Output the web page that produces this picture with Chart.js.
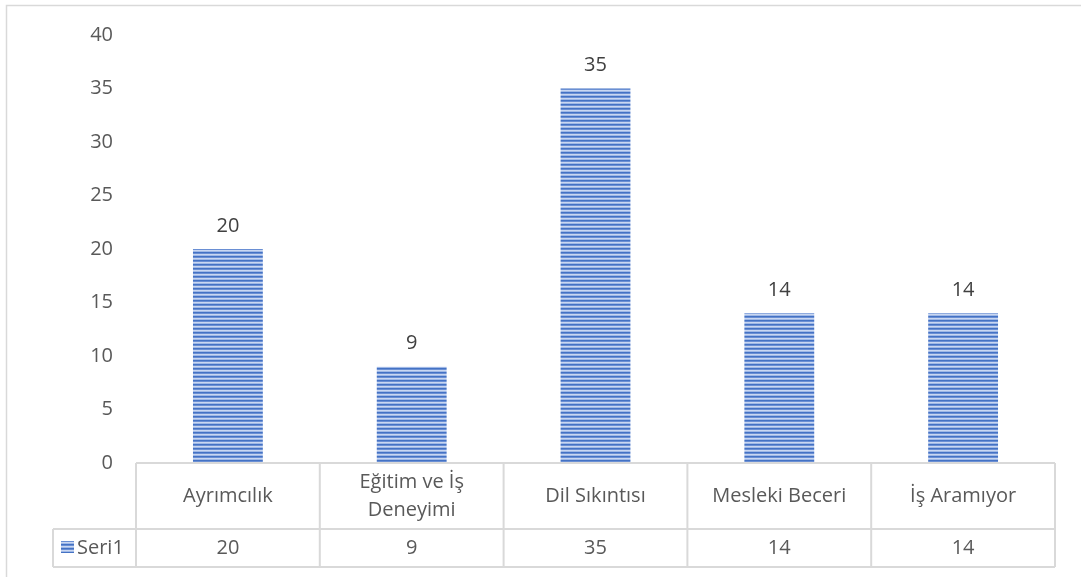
<!DOCTYPE html>
<html>
<head>
<meta charset="utf-8">
<script src="https://cdn.jsdelivr.net/npm/chart.js@4.4.1/dist/chart.umd.min.js"></script>
<style>
  html, body { margin: 0; padding: 0; background: #fff; }
  #wrap { position: relative; width: 1081px; height: 577px; }
</style>
</head>
<body>
<div id="wrap"><canvas id="myChart" width="1081" height="577"></canvas></div>
<script>
// veriler
var categories = ['Ayrımcılık', ['Eğitim ve İş', 'Deneyimi'], 'Dil Sıkıntısı', 'Mesleki Beceri', 'İş Aramıyor'];
var seriesName = 'Seri1';
var values = [20, 9, 35, 14, 14];
var yTicks = [0, 5, 10, 15, 20, 25, 30, 35, 40];

var FONT = '"Open Sans", "Liberation Sans", sans-serif';
var FSIZE = 20;
var TEXT = '#595959';
var LINE = '#d9d9d9';

// yatay çizgili desen
function stripes() {
  var c = document.createElement('canvas');
  c.width = 8; c.height = 4;
  var g = c.getContext('2d');
  var rows = ['#4472c4', '#6a8fd4', '#c9d7f1', '#9fb8e6'];
  for (var r = 0; r < rows.length; r++) {
    g.fillStyle = rows[r]; g.fillRect(0, r, 8, 1);
  }
  return document.getElementById('myChart').getContext('2d').createPattern(c, 'repeat');
}
var pattern = stripes();

var tablePlugin = {
  id: 'dataTable',
  afterDraw: function(chart) {
    var ctx = chart.ctx, area = chart.chartArea, xs = chart.scales.x;
    var top = area.bottom, mid = top + 66, bot = mid + 38;
    var legendLeft = 53;
    var step = (area.right - area.left) / categories.length;
    ctx.save();
    // dış çerçeve
    ctx.strokeStyle = LINE; ctx.lineWidth = 1.5;
    ctx.strokeRect(6.5, 5.5, 1100, 600);
    ctx.lineWidth = 2;
    ctx.beginPath();
    ctx.moveTo(area.left, top); ctx.lineTo(area.right, top);
    ctx.moveTo(legendLeft, mid); ctx.lineTo(area.right, mid);
    ctx.moveTo(legendLeft, bot); ctx.lineTo(area.right, bot);
    ctx.moveTo(legendLeft, mid); ctx.lineTo(legendLeft, bot);
    for (var i = 0; i <= categories.length; i++) {
      var x = area.left + i * step;
      ctx.moveTo(x, top); ctx.lineTo(x, bot);
    }
    ctx.stroke();
    // metinler
    ctx.fillStyle = TEXT;
    ctx.font = FSIZE + 'px ' + FONT;
    ctx.textAlign = 'center'; ctx.textBaseline = 'middle';
    for (var j = 0; j < categories.length; j++) {
      var cx = xs.getPixelForValue(j);
      var lab = categories[j];
      if (Array.isArray(lab)) {
        ctx.fillText(lab[0], cx, top + 19);
        ctx.fillText(lab[1], cx, top + 47);
      } else {
        ctx.fillText(lab, cx, top + 33);
      }
      ctx.fillText(String(values[j]), cx, mid + 19);
    }
    // lejant
    ctx.fillStyle = pattern;
    ctx.fillRect(61, mid + 12, 13, 12);
    ctx.fillStyle = TEXT;
    ctx.textAlign = 'left';
    ctx.fillText(seriesName, 77, mid + 19);
    ctx.restore();
  }
};

var labelPlugin = {
  id: 'barLabels',
  afterDatasetsDraw: function(chart) {
    var ctx = chart.ctx;
    var meta = chart.getDatasetMeta(0);
    ctx.save();
    ctx.fillStyle = '#404040';
    ctx.font = FSIZE + 'px ' + FONT;
    ctx.textAlign = 'center'; ctx.textBaseline = 'middle';
    meta.data.forEach(function(bar, i) {
      ctx.fillText(String(values[i]), bar.x, bar.y - 23);
    });
    ctx.restore();
  }
};

var ctx = document.getElementById('myChart').getContext('2d');
var myChart = new Chart(ctx, {
  type: 'bar',
  data: {
    labels: categories,
    datasets: [{
      label: seriesName,
      data: values,
      backgroundColor: pattern,
      borderWidth: 0,
      categoryPercentage: 1,
      barPercentage: 0.38
    }]
  },
  options: {
    responsive: false,
    animation: false,
    layout: { padding: { top: 33, right: 26, bottom: 114, left: 0 } },
    plugins: { legend: { display: false }, tooltip: { enabled: false } },
    scales: {
      x: { display: false },
      y: {
        min: 0, max: 40,
        afterFit: function(axis) { axis.width = 136; },
        afterBuildTicks: function(axis) { axis.ticks = yTicks.map(function(v) { return { value: v }; }); },
        border: { display: false },
        grid: { display: false, drawTicks: false },
        ticks: { padding: 23, color: TEXT, font: { family: FONT, size: FSIZE } }
      }
    }
  },
  plugins: [tablePlugin, labelPlugin]
});
</script>
</body>
</html>
